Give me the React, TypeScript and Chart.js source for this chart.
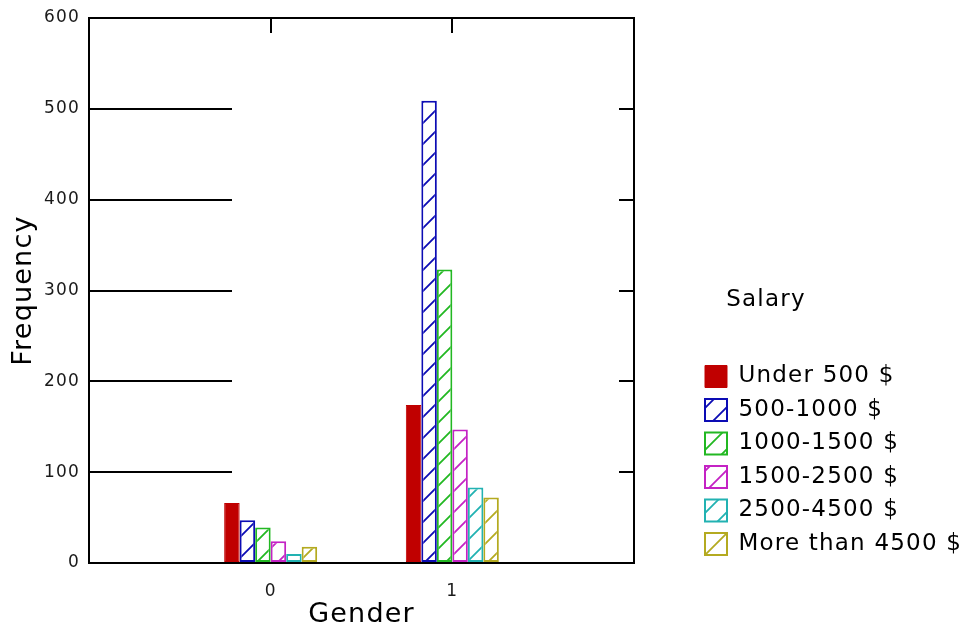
import React, { useEffect, useRef } from 'react';
import { Chart, registerables } from 'chart.js';

Chart.register(...registerables);

// ---- data ----
const genders = [0, 1];
const genderLabels = ['0', '1'];
const seriesNames = ['Under 500 $', '500-1000 $', '1000-1500 $', '1500-2500 $', '2500-4500 $', 'More than 4500 $'];
const under500 = [66, 174];
const from500to1000 = [47, 509];
const from1000to1500 = [39, 323];
const from1500to2500 = [24, 147];
const from2500to4500 = [10, 83];
const moreThan4500 = [18, 72];
const seriesValues = [under500, from500to1000, from1000to1500, from1500to2500, from2500to4500, moreThan4500];
const seriesColors = ['#c00000', '#0c0cb4', '#22b822', '#c422c4', '#22b2b2', '#b4aa20'];
const seriesHatched = [false, true, true, true, true, true];
const yMin = 0;
const yMax = 600;
const yStep = 100;
const xMin = -1;
const xMax = 2;

const FONT = "'DejaVu Sans', 'Verdana', sans-serif";

function makeHatch(color: string): CanvasPattern | string {
  const size = 21;
  const c = document.createElement('canvas');
  c.width = size;
  c.height = size;
  const g = c.getContext('2d');
  if (!g) return '#fff';
  g.fillStyle = '#ffffff';
  g.fillRect(0, 0, size, size);
  g.strokeStyle = color;
  g.lineWidth = 1.8;
  g.beginPath();
  g.moveTo(-2, size + 2);
  g.lineTo(size + 2, -2);
  g.moveTo(-2, 2);
  g.lineTo(2, -2);
  g.moveTo(size - 2, size + 2);
  g.lineTo(size + 2, size - 2);
  g.stroke();
  return g.createPattern(c, 'repeat') || '#fff';
}

const spacingPlugin = {
  id: 'letterSpacingPlugin',
  beforeUpdate(chart: any) { chart.ctx.letterSpacing = '1.2px'; },
  beforeLayout(chart: any) { chart.ctx.letterSpacing = '1.2px'; },
  afterLayout(chart: any) {
    // let the legend text run to the canvas edge (title stays centred on the legend box)
    if (chart.legend) chart.legend.right = chart.width;
  },
  beforeDraw(chart: any) { chart.ctx.letterSpacing = '1.2px'; },
};

const setGenderTicks = (scale: any) => {
  scale.ticks = genders.map((v) => ({ value: v }));
};

export default function App() {
  const canvasRef = useRef<HTMLCanvasElement | null>(null);

  useEffect(() => {
    const canvas = canvasRef.current;
    if (!canvas) return;
    Chart.defaults.font.family = FONT;
    Chart.defaults.color = '#000';

    const datasets = seriesNames.map((name, si) => ({
      label: name,
      data: genders.map((g, i) => ({ x: g, y: seriesValues[si][i] })),
      backgroundColor: seriesHatched[si] ? makeHatch(seriesColors[si]) : seriesColors[si],
      borderColor: seriesColors[si],
      borderWidth: seriesHatched[si] ? 2 : 1,
      borderSkipped: false,
      barPercentage: 1,
      categoryPercentage: 0.512,
    }));

    const chart = new Chart(canvas, {
      type: 'bar',
      data: { datasets: datasets as any },
      plugins: [spacingPlugin],
      options: {
        animation: false,
        responsive: false,
        devicePixelRatio: 1,
        layout: { padding: { left: 0, right: 133.5, top: 18, bottom: 0 } },
        plugins: {
          tooltip: { enabled: false },
          legend: {
            position: 'right',
            align: 'center',
            maxWidth: 143,
            title: {
              display: true,
              text: 'Salary',
              color: '#000',
              position: 'center',
              font: { size: 23, family: FONT },
              padding: { top: 202.5, bottom: 38.4 },
            },
            labels: {
              boxWidth: 22,
              boxHeight: 22,
              padding: 10.5,
              color: '#000',
              font: { size: 23, family: FONT },
            },
          },
        },
        scales: {
          x: {
            type: 'linear',
            position: 'bottom',
            min: xMin,
            max: xMax,
            offset: false,
            afterBuildTicks: setGenderTicks,
            afterFit: (s: any) => { s.height = 71; },
            grid: { display: false, offset: false },
            border: { display: true, color: '#000', width: 2 },
            ticks: {
              padding: 10,
              color: '#1a1a1a',
              font: { size: 17, family: FONT },
              callback: (v: any) => {
                const i = genders.indexOf(Number(v));
                return i >= 0 ? genderLabels[i] : '';
              },
            },
            title: {
              display: true,
              text: 'Gender',
              color: '#000',
              font: { size: 27, family: FONT },
              padding: { top: 0, bottom: 2.4 },
            },
          },
          x2: {
            type: 'linear',
            position: 'top',
            min: xMin,
            max: xMax,
            offset: false,
            afterBuildTicks: setGenderTicks,
            afterFit: (s: any) => { s.height = 0; s.paddingLeft = 0; s.paddingRight = 0; },
            grid: {
              display: true,
              offset: false,
              drawOnChartArea: false,
              drawTicks: true,
              tickLength: -15,
              color: '#000',
              lineWidth: 2,
              tickColor: '#000',
              tickWidth: 2,
            },
            border: { display: true, color: '#000', width: 2 },
            ticks: { display: false },
          },
          y: {
            type: 'linear',
            position: 'left',
            min: yMin,
            max: yMax,
            afterFit: (s: any) => { s.width = 89; s.paddingTop = 10; s.paddingBottom = 10; },
            grid: {
              display: true,
              drawOnChartArea: false,
              drawTicks: true,
              tickLength: -143,
              color: '#000',
              lineWidth: 2,
              tickColor: '#000',
              tickWidth: 2,
            },
            border: { display: true, color: '#000', width: 2 },
            ticks: {
              stepSize: yStep,
              padding: 152,
              color: '#1a1a1a',
              font: { size: 17, family: FONT },
            },
            title: {
              display: true,
              text: 'Frequency',
              color: '#000',
              font: { size: 27, family: FONT },
              padding: { top: 7.5, bottom: 0 },
            },
          },
          y2: {
            type: 'linear',
            position: 'right',
            min: yMin,
            max: yMax,
            afterFit: (s: any) => { s.width = 60.5; s.paddingTop = 0; s.paddingBottom = 0; },
            grid: {
              display: true,
              drawOnChartArea: false,
              drawTicks: true,
              tickLength: -15,
              color: '#000',
              lineWidth: 2,
              tickColor: '#000',
              tickWidth: 2,
            },
            border: { display: true, color: '#000', width: 2 },
            ticks: { display: false, stepSize: yStep },
          },
        },
      } as any,
    });

    return () => chart.destroy();
  }, []);

  return (
    <div style={{ position: 'absolute', left: 0, top: 0, width: 971, height: 634, background: '#fff' }}>
      <canvas ref={canvasRef} width={971} height={634} style={{ display: 'block', width: 971, height: 634 }} />
    </div>
  );
}
